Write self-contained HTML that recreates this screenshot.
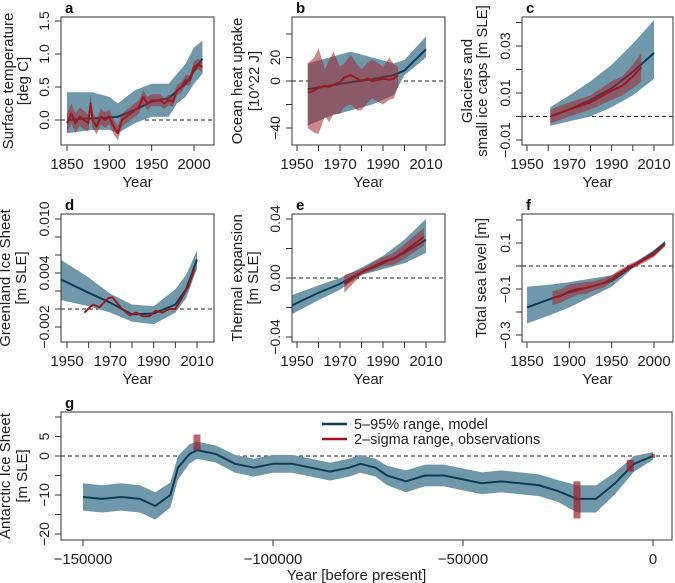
<!DOCTYPE html>
<html><head><meta charset="utf-8"><style>
body{margin:0;background:#fff}
svg{display:block;font-family:"Liberation Sans",Arial,sans-serif}
</style></head><body>
<svg id="chart" width="675" height="583" viewBox="0 0 675 583"></svg>
<script>
// ---- Panel a: surface temperature ----
const aModelYears=[1850,1870,1890,1910,1930,1950,1970,1990,2010];
const aModelMean=[0.0,0.02,0.03,0.05,0.15,0.28,0.33,0.55,0.93];
const aModelUpYears=[1850,1880,1900,1910,1930,1950,1970,1980,1990,2000,2010];
const aModelUp=[0.42,0.42,0.35,0.25,0.45,0.55,0.55,0.7,0.85,1.1,1.2];
const aModelLo=[-0.2,-0.15,-0.15,-0.2,-0.05,0.05,0.05,0.25,0.35,0.55,0.7];
const aObsYears=[1850,1855,1860,1865,1870,1875,1878,1880,1885,1890,1895,1900,1905,1910,1915,1920,1925,1930,1935,1940,1945,1950,1955,1960,1965,1970,1975,1980,1985,1990,1995,2000,2005,2010];
const aObs=[-0.05,0.1,-0.05,0.05,0.0,-0.05,0.25,0.0,-0.1,0.05,0.0,0.05,-0.1,-0.2,0.0,0.05,0.1,0.15,0.2,0.35,0.25,0.3,0.3,0.3,0.25,0.3,0.28,0.45,0.5,0.6,0.6,0.8,0.85,0.8];
const aObsErr=[0.15,0.15,0.15,0.14,0.14,0.13,0.13,0.12,0.12,0.12,0.12,0.11,0.11,0.11,0.1,0.1,0.1,0.1,0.1,0.1,0.1,0.09,0.09,0.09,0.08,0.08,0.08,0.08,0.08,0.08,0.08,0.08,0.08,0.08];
// ---- Panel b: ocean heat uptake ----
const bModelYears=[1955,1965,1975,1985,1995,2000,2010];
const bModelMean=[-7,-4,-1,1.5,5,9,27];
const bModelUp=[15,20,25,20,15,18,38];
const bModelLo=[-38,-30,-25,-20,-12,5,20];
const bObsYears=[1955,1958,1960,1963,1965,1967,1970,1972,1975,1978,1980,1983,1985,1988,1990,1993,1995,1997];
const bObs=[-10,-8,-6,-4,-5,-3,-1,3,5,2,0,2,0,1,2,1,2,5];
const bObsUp=[15,20,28,10,18,25,12,15,22,14,10,16,18,15,12,20,14,12];
const bObsLo=[-40,-44,-45,-30,-35,-28,-28,-22,-20,-25,-25,-18,-15,-18,-20,-16,-15,-5];
// ---- Panel c: glaciers ----
const cModelYears=[1961,1970,1980,1990,2000,2010];
const cModelMean=[0.0,0.003,0.007,0.012,0.019,0.027];
const cModelUp=[0.004,0.009,0.015,0.022,0.031,0.041];
const cModelLo=[-0.004,-0.002,0.0,0.004,0.009,0.016];
const cObsYears=[1961,1970,1980,1990,1995,2000,2004];
const cObs=[0.0,0.003,0.006,0.011,0.013,0.017,0.021];
const cObsErr=[0.003,0.003,0.003,0.004,0.004,0.005,0.006];
// ---- Panel d: Greenland ----
const dModelYears=[1947,1960,1970,1980,1990,2000,2005,2010];
const dModelMean=[0.0033,0.0018,0.0007,-0.0006,-0.0005,0.0005,0.0022,0.0055];
const dModelUp=[0.0055,0.0035,0.0017,0.0005,0.0003,0.0022,0.0038,0.0065];
const dModelLo=[0.001,0.0003,-0.0004,-0.0014,-0.0017,-0.0004,0.0012,0.0045];
const dObsYears=[1958,1962,1965,1969,1971,1975,1979,1982,1985,1988,1991,1994,1997,2000,2003,2006,2009];
const dObs=[-0.0004,0.0005,0.0002,0.0012,0.0013,0.0001,-0.0007,-0.0004,-0.0008,-0.0008,-0.0002,-0.0004,0.0,0.0,0.0012,0.0025,0.0045];
// ---- Panel e: thermal expansion ----
const eModelYears=[1947,1960,1970,1980,1990,2000,2010];
const eModelMean=[-0.019,-0.010,-0.004,0.004,0.010,0.017,0.026];
const eModelUp=[-0.012,-0.005,0.0,0.007,0.015,0.026,0.04];
const eModelLo=[-0.025,-0.015,-0.008,0.002,0.006,0.01,0.017];
const eObsYears=[1972,1980,1990,1995,2000,2009];
const eObs=[-0.004,0.004,0.011,0.013,0.018,0.028];
const eObsErr=[0.006,0.002,0.003,0.004,0.005,0.006];
// ---- Panel f: total sea level ----
const fModelYears=[1850,1880,1900,1950,1975,2000,2013];
const fModelMean=[-0.18,-0.14,-0.115,-0.065,0.0,0.06,0.1];
const fModelUp=[-0.09,-0.08,-0.07,-0.04,0.01,0.07,0.11];
const fModelLo=[-0.25,-0.21,-0.18,-0.09,-0.01,0.05,0.09];
const fObsYears=[1880,1890,1900,1910,1920,1930,1940,1950,1960,1970,1980,1990,2000,2013];
const fObs=[-0.14,-0.13,-0.11,-0.1,-0.095,-0.085,-0.075,-0.055,-0.03,-0.005,0.01,0.03,0.05,0.095];
const fObsErr=[0.03,0.03,0.03,0.025,0.025,0.02,0.02,0.015,0.015,0.012,0.012,0.012,0.012,0.01];
// ---- Panel g: Antarctic ----
const gYears=[-150000,-145000,-140000,-135000,-131000,-127000,-125000,-122000,-120000,-115000,-110000,-105000,-100000,-95000,-90000,-85000,-80000,-77000,-73000,-70000,-65000,-60000,-55000,-50000,-45000,-40000,-35000,-30000,-25000,-20000,-15000,-10000,-5000,0];
const gMean=[-10.5,-11,-10.5,-11,-12.8,-10,-3,0.5,1.5,0.5,-2,-3,-2,-2,-3,-4,-3,-2,-3,-5,-6.5,-5,-5,-6,-7,-6.5,-7,-7.5,-9,-11,-11,-7,-2,0];
const gErr=[3.5,3.5,3.5,3.5,3.5,3.2,3,2.5,2.2,2.2,2.3,2.3,2.3,2.3,2.3,2.3,2.3,2.3,2.3,2.5,2.8,2.8,2.8,2.8,2.8,2.8,2.8,2.8,2.8,3.5,3.5,2.8,2,1];
const gObsYears=[-120000,-20000,-6000,0];
const gObsLo=[1.5,-16,-4,-0.5];
const gObsHi=[5.5,-6.5,-1,0.5];

const svg=document.getElementById('chart');
const NS='http://www.w3.org/2000/svg';
function mk(tag,attrs,parent){const e=document.createElementNS(NS,tag);for(const k in attrs)e.setAttribute(k,attrs[k]);(parent||svg).appendChild(e);return e;}
function scale(d0,p0,d1,p1){return v=>p0+(v-d0)*(p1-p0)/(d1-d0);}
const MBAND='#6f98aa',MLINE='#0e3d55',OBAND='rgba(160,40,50,0.55)',OLINE='#9a1b20';

function band(g,xs,lo,hi,X,Y,fill,name){
  let d='M'+xs.map((x,i)=>X(x)+','+Y(hi[i])).join(' L');
  for(let i=xs.length-1;i>=0;i--)d+=' L'+X(xs[i])+','+Y(lo[i]);
  const p=mk('path',{d:d+'Z',fill:fill,stroke:'none'},g);
  
  
}
function line(g,xs,ys,X,Y,col,w,name){
  const p=mk('polyline',{points:xs.map((x,i)=>X(x)+','+Y(ys[i])).join(' '),fill:'none',stroke:col,'stroke-width':w,'stroke-linejoin':'round'},g);
  
  
}
function panel(o){
  const g=mk('g',{});
  
  
  const X=o.X,Y=o.Y;
  const cp='cp'+o.id;
  const c=mk('clipPath',{id:cp},g);mk('rect',{x:o.l,y:o.t,width:o.r-o.l,height:o.b-o.t},c);
  const pg=mk('g',{'clip-path':'url(#'+cp+')'},g);
  mk('line',{x1:o.l,x2:o.r,y1:Y(0),y2:Y(0),stroke:'#222','stroke-width':1,'stroke-dasharray':'4,3'},pg);
  o.draw(pg,X,Y);
  const box=mk('rect',{x:o.l,y:o.t,width:o.r-o.l,height:o.b-o.t,fill:'none',stroke:'#333','stroke-width':1},g);
  
  o.xt.forEach(v=>{mk('line',{x1:X(v),x2:X(v),y1:o.b,y2:o.b+6,stroke:'#333'},g);});
  o.xl.forEach((v,i)=>{const t=mk('text',{x:X(v),y:o.b+24,'text-anchor':'middle','font-size':15,fill:'#222'},g);t.textContent=o.xlt[i];
    });
  o.yt.forEach(v=>{mk('line',{x1:o.l,x2:o.l-6,y1:Y(v),y2:Y(v),stroke:'#333'},g);});
  o.yl.forEach((v,i)=>{const t=mk('text',{x:0,y:0,transform:`translate(${o.l-12},${Y(v)}) rotate(-90)`,'text-anchor':'middle','font-size':14,fill:'#222'},g);t.textContent=o.ylt[i];
    });
  const xt=mk('text',{x:(o.l+o.r)/2+(o.xtOff||0),y:o.b+(o.xtY||42),'text-anchor':'middle','font-size':15,fill:'#222'},g);xt.textContent=o.xtitle;
  
  const cy=(o.t+o.b)/2;
  o.ytitle.forEach((s,i)=>{const t=mk('text',{x:0,y:0,transform:`translate(${o.l-o.ytOff[i]},${cy}) rotate(-90)`,'text-anchor':'middle','font-size':15,fill:'#222'},g);t.textContent=s;
    });
  const lt=mk('text',{x:o.l+4,y:o.t-4,'font-size':15,'font-weight':'bold',fill:'#111'},g);lt.textContent=o.id;
  
}
function errs(v,e,s){return v.map((x,i)=>x+s*e[i]);}

panel({id:'a',l:61,r:214,t:17,b:145,X:scale(1850,67,2000,194),Y:scale(0,120,1.5,21),
 xt:[1850,1900,1950,2000],xl:[1850,1900,1950,2000],xlt:['1850','1900','1950','2000'],
 yt:[0,0.5,1,1.5],yl:[0,0.5,1,1.5],ylt:['0.0','0.5','1.0','1.5'],xtitle:'Year',
 ytitle:['Surface temperature','[deg C]'],ytOff:[48,33],
 draw:(g,X,Y)=>{band(g,aModelUpYears,aModelLo,aModelUp,X,Y,MBAND,'model-range');line(g,aModelYears,aModelMean,X,Y,MLINE,2,'model-mean');
  band(g,aObsYears,errs(aObs,aObsErr,-1),errs(aObs,aObsErr,1),X,Y,OBAND,'obs-range');line(g,aObsYears,aObs,X,Y,OLINE,2,'obs-mean');}});
panel({id:'b',l:292,r:445,t:17,b:145,X:scale(1950,297,2010,426),Y:scale(0,81,-40,128),
 xt:[1950,1960,1970,1980,1990,2000,2010],xl:[1950,1970,1990,2010],xlt:['1950','1970','1990','2010'],
 yt:[-40,-20,0,20,40],yl:[-40,0,20],ylt:['−40','0','20'],xtitle:'Year',
 ytitle:['Ocean heat uptake','[10^22 J]'],ytOff:[50,33],
 draw:(g,X,Y)=>{band(g,bModelYears,bModelLo,bModelUp,X,Y,MBAND,'model-range');line(g,bModelYears,bModelMean,X,Y,MLINE,2,'model-mean');
  band(g,bObsYears,bObsLo,bObsUp,X,Y,OBAND,'obs-range');line(g,bObsYears,bObs,X,Y,OLINE,2,'obs-mean');}});
panel({id:'c',l:522,r:673,t:17,b:145,X:scale(1950,527,2010,654),Y:scale(0.01,93,-0.01,140),
 xt:[1950,1960,1970,1980,1990,2000,2010],xl:[1950,1970,1990,2010],xlt:['1950','1970','1990','2010'],
 yt:[-0.01,0,0.01,0.02,0.03,0.04],yl:[-0.01,0.01,0.03],ylt:['−0.01','0.01','0.03'],xtitle:'Year',
 ytitle:['Glaciers and','small ice caps [m SLE]'],ytOff:[50,35],
 draw:(g,X,Y)=>{band(g,cModelYears,cModelLo,cModelUp,X,Y,MBAND,'model-range');line(g,cModelYears,cModelMean,X,Y,MLINE,2,'model-mean');
  band(g,cObsYears,errs(cObs,cObsErr,-1),errs(cObs,cObsErr,1),X,Y,OBAND,'obs-range');line(g,cObsYears,cObs,X,Y,OLINE,2,'obs-mean');}});
panel({id:'d',l:61,r:214,t:214,b:342,X:scale(1950,67,2010,197),Y:scale(0,309,0.01,219),
 xt:[1950,1960,1970,1980,1990,2000,2010],xl:[1950,1970,1990,2010],xlt:['1950','1970','1990','2010'],
 yt:[-0.002,0,0.002,0.004,0.006,0.008,0.01],yl:[-0.002,0.004,0.01],ylt:['−0.002','0.004','0.010'],xtitle:'Year',
 ytitle:['Greenland Ice Sheet','[m SLE]'],ytOff:[51,35],
 draw:(g,X,Y)=>{band(g,dModelYears,dModelLo,dModelUp,X,Y,MBAND,'model-range');line(g,dModelYears,dModelMean,X,Y,MLINE,2,'model-mean');
  line(g,dObsYears,dObs,X,Y,OLINE,2,'obs-mean');}});
panel({id:'e',l:292,r:445,t:214,b:342,X:scale(1950,297,2010,426),Y:scale(0,278,0.04,219),
 xt:[1950,1960,1970,1980,1990,2000,2010],xl:[1950,1970,1990,2010],xlt:['1950','1970','1990','2010'],
 yt:[-0.04,-0.02,0,0.02,0.04],yl:[-0.04,0,0.04],ylt:['−0.04','0.00','0.04'],xtitle:'Year',
 ytitle:['Thermal expansion','[m SLE]'],ytOff:[50,34],
 draw:(g,X,Y)=>{band(g,eModelYears,eModelLo,eModelUp,X,Y,MBAND,'model-range');line(g,eModelYears,eModelMean,X,Y,MLINE,2,'model-mean');
  band(g,eObsYears,errs(eObs,eObsErr,-1),errs(eObs,eObsErr,1),X,Y,OBAND,'obs-range');line(g,eObsYears,eObs,X,Y,OLINE,2,'obs-mean');}});
panel({id:'f',l:522,r:673,t:214,b:342,X:scale(1850,527,2000,654),Y:scale(0,266,0.1,243),
 xt:[1850,1900,1950,2000],xl:[1850,1900,1950,2000],xlt:['1850','1900','1950','2000'],
 yt:[-0.3,-0.2,-0.1,0,0.1,0.2],yl:[-0.3,-0.1,0.1],ylt:['−0.3','−0.1','0.1'],xtitle:'Year',
 ytitle:['Total sea level [m]'],ytOff:[36],
 draw:(g,X,Y)=>{band(g,fModelYears,fModelLo,fModelUp,X,Y,MBAND,'model-range');line(g,fModelYears,fModelMean,X,Y,MLINE,2,'model-mean');
  band(g,fObsYears,errs(fObs,fObsErr,-1),errs(fObs,fObsErr,1),X,Y,OBAND,'obs-range');line(g,fObsYears,fObs,X,Y,OLINE,2,'obs-mean');}});
panel({id:'g',l:61,r:672,t:412,b:540,X:scale(-150000,83,0,653),Y:scale(0,456,-20,534),
 xt:[-150000,-100000,-50000,0],xl:[-150000,-100000,-50000,0],xlt:['−150000','−100000','−50000','0'],
 yt:[-20,-15,-10,-5,0,5,10],yl:[-20,-10,0,5],ylt:['−20','−10','0','5'],xtitle:'Year [before present]',xtOff:-10,xtY:40,
 ytitle:['Antarctic Ice Sheet','[m SLE]'],ytOff:[51,34],
 draw:(g,X,Y)=>{band(g,gYears,errs(gMean,gErr,-1),errs(gMean,gErr,1),X,Y,MBAND,'model-range');line(g,gYears,gMean,X,Y,MLINE,2,'model-mean');
  gObsYears.forEach((yr,i)=>{const w=i==3?4:7;const r=mk('rect',{x:X(yr)-w/2,y:Y(gObsHi[i]),width:w,height:Y(gObsLo[i])-Y(gObsHi[i]),fill:'rgba(160,30,40,0.7)'},g);
   });}});
const lg=mk('g',{});


mk('line',{x1:322,x2:347,y1:424,y2:424,stroke:MLINE,'stroke-width':2.5},lg);
mk('line',{x1:322,x2:347,y1:439,y2:439,stroke:'#a0151c','stroke-width':2.5},lg);
const t1=mk('text',{x:354,y:429,'font-size':14.5,fill:'#222'},lg);t1.textContent='5–95% range, model';

const t2=mk('text',{x:354,y:444,'font-size':14.5,fill:'#222'},lg);t2.textContent='2–sigma range, observations';

</script>
</body></html>
